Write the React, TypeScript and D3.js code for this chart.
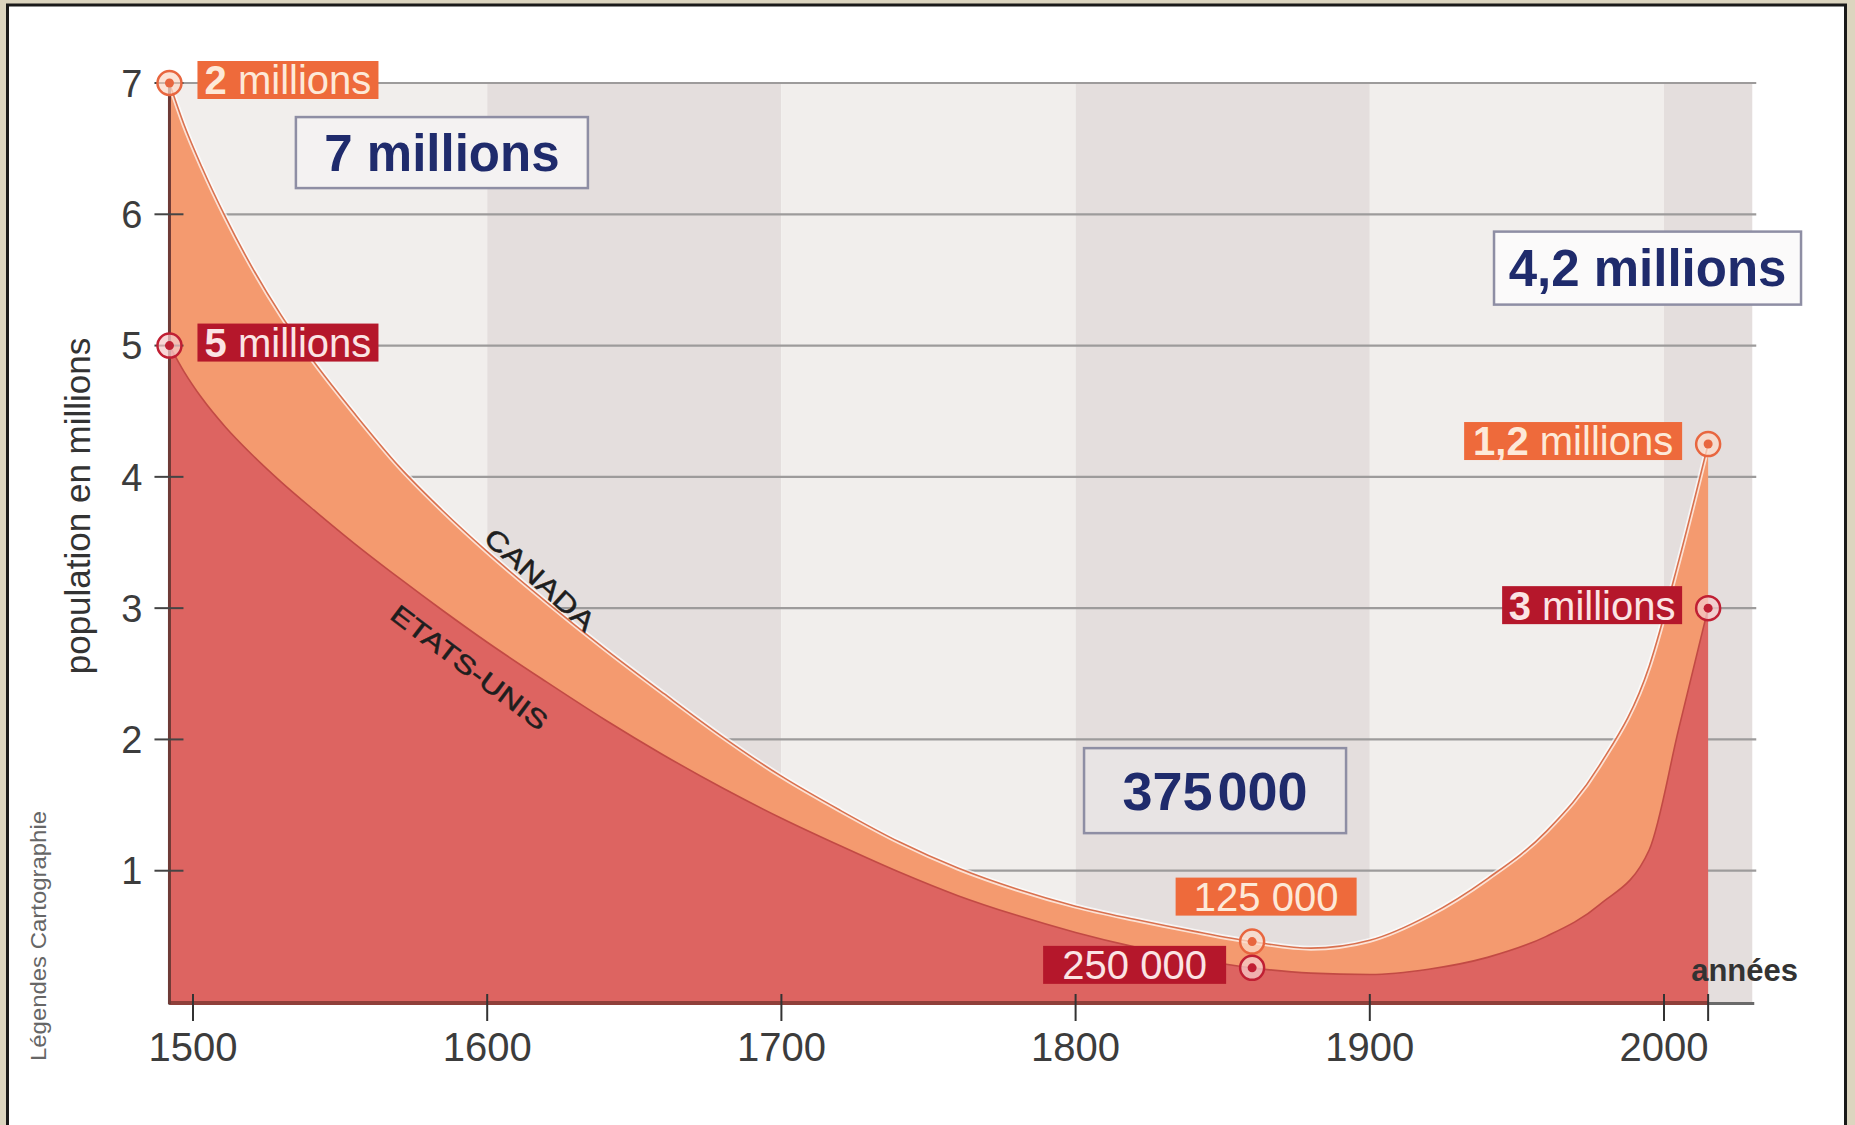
import React, { useEffect, useRef } from 'react';
import * as d3 from 'd3';

// Population (millions)
const years = [1492, 1497, 1503, 1511, 1520, 1530, 1542, 1555, 1570, 1585, 1600, 1620, 1640, 1660, 1680, 1700, 1720, 1740, 1760, 1780, 1800, 1820, 1840, 1860, 1880, 1900, 1920, 1940, 1960, 1978, 1995, 2005, 2015];
const etatsUnis = [5.0, 4.8, 4.6, 4.38, 4.17, 3.96, 3.73, 3.49, 3.23, 2.98, 2.74, 2.44, 2.15, 1.88, 1.63, 1.4, 1.19, 0.99, 0.81, 0.66, 0.53, 0.42, 0.33, 0.26, 0.22, 0.21, 0.25, 0.34, 0.5, 0.74, 1.16, 2.08, 3.0];
const canada = [2.0, 1.88, 1.76, 1.6, 1.43, 1.27, 1.12, 0.99, 0.85, 0.76, 0.69, 0.61, 0.54, 0.47, 0.39, 0.32, 0.27, 0.23, 0.21, 0.2, 0.2, 0.21, 0.21, 0.2, 0.19, 0.26, 0.41, 0.6, 0.8, 1.06, 1.4, 1.28, 1.25];

const yTicks = [1, 2, 3, 4, 5, 6, 7];
const xTicks = [1500, 1600, 1700, 1800, 1900, 2000];
const bandEdges = [1492, 1600, 1700, 1800, 1900, 2000, 2030];

// small coloured value tags next to the markers
const valueLabels = [
    { year: 1492, value: 7, bold: '2', rest: ' millions', kind: 'ca', side: 'right', w: 181 },
    { year: 1492, value: 5, bold: '5', rest: ' millions', kind: 'us', side: 'right', w: 181 },
    { year: 2015, value: 4.25, bold: '1,2', rest: ' millions', kind: 'ca', side: 'left', w: 218 },
    { year: 2015, value: 3.0, bold: '3', rest: ' millions', kind: 'us', side: 'left', w: 180 },
    { year: 1860, value: 0.46, bold: '', rest: '125 000', kind: 'ca', side: 'above', w: 181 },
    { year: 1860, value: 0.26, bold: '', rest: '250 000', kind: 'us', side: 'left', w: 183 },
];

// big navy totals
const totalLabels = [
    { parts: ['7 millions'], year: 1584.6, value: 6.47, w: 292, h: 71, size: 51, fill: '#f4f2f2' },
    { parts: ['4,2 millions'], year: 1994.4, value: 5.59, w: 307, h: 73, size: 51, fill: '#fbfafa' },
    { parts: ['375', '000'], year: 1847.4, value: 1.61, w: 262, h: 85, size: 54, fill: '#e8e4e4' },
];

const seriesLabels = [
    { text: 'CANADA', year: 1618, value: 3.22, angle: 42, len: 138, size: 27 },
    { text: 'ETATS-UNIS', year: 1594, value: 2.55, angle: 37, len: 189, size: 26 },
];

const W = 1855;
const H = 1125;
const FONT = '"Liberation Sans", Arial, sans-serif';

const colors = {
    ca: '#f49a6f',
    us: '#dd6461',
    caTag: '#ee6a3b',
    usTag: '#b5172b',
    caRing: '#e8663f',
    usRing: '#c01f33',
    navy: '#1f2b6c',
};

const App = () => {
    const svgRef = useRef(null);

    useEffect(() => {
        document.body.style.margin = '0';
        const svg = d3.select(svgRef.current);
        svg.selectAll('*').remove();

        const x = d3.scaleLinear().domain([1500, 2000]).range([193, 1664]);
        const y = d3.scaleLinear().domain([0, 7]).range([1002, 83]);
        const x0 = x(1492);

        // frame
        svg.append('rect').attr('width', W).attr('height', H).attr('fill', '#dcd5bf');
        svg.append('rect')
            .attr('x', 7.5).attr('y', 5).attr('width', 1838).attr('height', H + 20)
            .attr('fill', '#fff').attr('stroke', '#1a1a1a').attr('stroke-width', 3);

        // alternating century bands
        bandEdges.slice(0, -1).forEach((e, i) => {
            svg.append('rect')
                .attr('x', x(e)).attr('y', y(7))
                .attr('width', x(bandEdges[i + 1]) - x(e))
                .attr('height', y(0) - y(7))
                .attr('fill', i % 2 ? '#e4dedd' : '#f1eeec');
        });

        // grid
        yTicks.forEach(v => {
            svg.append('line')
                .attr('x1', x0).attr('x2', x(2030) + 4)
                .attr('y1', y(v)).attr('y2', y(v))
                .attr('stroke', '#9d9b9b').attr('stroke-width', 2.2);
        });

        // stacked areas
        const table = years.map((year, i) => ({ year, etatsUnis: etatsUnis[i], canada: canada[i] }));
        const stacked = d3.stack().keys(['etatsUnis', 'canada'])(table as any);

        const area = d3.area<any>()
            .x(d => x(d.data.year))
            .y0(d => y(d[0]))
            .y1(d => y(d[1]))
            .curve(d3.curveMonotoneX);

        const topLine = d3.line<any>()
            .x(d => x(d.data.year))
            .y(d => y(d[1]))
            .curve(d3.curveMonotoneX);

        svg.append('path').datum(stacked[1]).attr('fill', colors.ca).attr('d', area);
        svg.append('path').datum(stacked[0]).attr('fill', colors.us).attr('d', area);

        svg.append('path').datum(stacked[1])
            .attr('fill', 'none').attr('stroke', '#ffffff').attr('stroke-opacity', 0.7)
            .attr('stroke-width', 5).attr('d', topLine);
        svg.append('path').datum(stacked[1])
            .attr('fill', 'none').attr('stroke', '#d9714f').attr('stroke-width', 1.6).attr('d', topLine);
        svg.append('path').datum(stacked[0])
            .attr('fill', 'none').attr('stroke', '#c24a44').attr('stroke-width', 1.6).attr('d', topLine);

        // axes
        svg.append('line')
            .attr('x1', x0 - 1).attr('x2', x(2030) + 2)
            .attr('y1', y(0) + 1.5).attr('y2', y(0) + 1.5)
            .attr('stroke', '#6a6a6a').attr('stroke-width', 3);
        svg.append('line')
            .attr('x1', x0).attr('x2', x(2015))
            .attr('y1', y(0) + 1).attr('y2', y(0) + 1)
            .attr('stroke', '#8f3f3a').attr('stroke-width', 4);
        svg.append('line')
            .attr('x1', x0).attr('x2', x0)
            .attr('y1', y(7)).attr('y2', y(0) + 2)
            .attr('stroke', '#6e3a36').attr('stroke-width', 3);

        yTicks.forEach(v => {
            svg.append('line')
                .attr('x1', x0 - 15).attr('x2', x0 + 14)
                .attr('y1', y(v)).attr('y2', y(v))
                .attr('stroke', '#444').attr('stroke-width', 2);
            svg.append('text')
                .attr('x', x0 - 27).attr('y', y(v)).attr('dy', '0.36em')
                .attr('text-anchor', 'end')
                .attr('font-family', FONT).attr('font-size', 38).attr('fill', '#3c3c3c')
                .text(v);
        });

        [...xTicks, 2015].forEach(t => {
            svg.append('line')
                .attr('x1', x(t)).attr('x2', x(t))
                .attr('y1', y(0) - 8).attr('y2', y(0) + 19)
                .attr('stroke', '#333').attr('stroke-width', 2);
        });
        xTicks.forEach(t => {
            svg.append('text')
                .attr('x', x(t)).attr('y', 1061)
                .attr('text-anchor', 'middle')
                .attr('font-family', FONT).attr('font-size', 40).attr('fill', '#3c3c3c')
                .text(t);
        });

        // axis titles / credits
        svg.append('text')
            .attr('transform', 'translate(90,506) rotate(-90)')
            .attr('text-anchor', 'middle')
            .attr('font-family', FONT).attr('font-size', 35).attr('fill', '#333')
            .text('population en millions');
        svg.append('text')
            .attr('transform', 'translate(46,936) rotate(-90)')
            .attr('text-anchor', 'middle')
            .attr('font-family', FONT).attr('font-size', 22).attr('fill', '#666')
            .attr('textLength', 250).attr('lengthAdjust', 'spacingAndGlyphs')
            .text('Légendes Cartographie');
        svg.append('text')
            .attr('x', 1798).attr('y', 981)
            .attr('text-anchor', 'end')
            .attr('font-family', FONT).attr('font-size', 31).attr('font-weight', 'bold').attr('fill', '#333')
            .text('années');

        // series names along the curves
        seriesLabels.forEach(s => {
            svg.append('text')
                .attr('transform', `translate(${x(s.year)},${y(s.value)}) rotate(${s.angle})`)
                .attr('text-anchor', 'middle').attr('dy', '0.36em')
                .attr('font-family', FONT).attr('font-size', s.size).attr('fill', '#1e1e1e')
                .attr('stroke', '#1e1e1e').attr('stroke-width', 0.5)
                .attr('textLength', s.len).attr('lengthAdjust', 'spacingAndGlyphs')
                .text(s.text);
        });

        // markers
        valueLabels.forEach(l => {
            const ring = l.kind === 'ca' ? colors.caRing : colors.usRing;
            const g = svg.append('g').attr('transform', `translate(${x(l.year)},${y(l.value)})`);
            g.append('circle').attr('r', 12)
                .attr('fill', l.kind === 'ca' ? '#fbd9c8' : '#f6c9c9').attr('fill-opacity', 0.75)
                .attr('stroke', ring).attr('stroke-width', 2.5);
            g.append('circle').attr('r', 4.5).attr('fill', ring);
        });

        // coloured value tags
        valueLabels.forEach(l => {
            const mx = x(l.year);
            const my = y(l.value);
            const h = 38;
            let bx;
            let cy = my - 3;
            if (l.side === 'right') bx = mx + 28;
            else if (l.side === 'left') bx = mx - 26 - l.w;
            else { bx = mx + 14 - l.w / 2; cy = my - 45; }

            svg.append('rect')
                .attr('x', bx).attr('y', cy - h / 2).attr('width', l.w).attr('height', h)
                .attr('fill', l.kind === 'ca' ? colors.caTag : colors.usTag);
            const t = svg.append('text')
                .attr('x', bx + l.w / 2).attr('y', cy).attr('dy', '0.36em')
                .attr('text-anchor', 'middle')
                .attr('font-family', FONT).attr('font-size', 40)
                .attr('fill', l.kind === 'ca' ? '#fde9d8' : '#fbe4e4');
            if (l.bold) t.append('tspan').attr('font-weight', 'bold').text(l.bold);
            t.append('tspan').text(l.rest);
        });

        // totals
        totalLabels.forEach(b => {
            const cx = x(b.year);
            const cy = y(b.value);
            svg.append('rect')
                .attr('x', cx - b.w / 2).attr('y', cy - b.h / 2)
                .attr('width', b.w).attr('height', b.h)
                .attr('fill', b.fill).attr('stroke', '#8e8ea4').attr('stroke-width', 2.5);
            const t = svg.append('text')
                .attr('x', cx).attr('y', cy).attr('dy', '0.36em')
                .attr('text-anchor', 'middle')
                .attr('font-family', FONT).attr('font-size', b.size).attr('font-weight', 'bold')
                .attr('fill', colors.navy);
            b.parts.forEach((p, i) => {
                t.append('tspan').attr('dx', i ? 5 : 0).text(p);
            });
        });
    }, []);

    return (
        <svg ref={svgRef} width={W} height={H} style={{ position: 'absolute', left: 0, top: 0, display: 'block' }} />
    );
};

export default App;
